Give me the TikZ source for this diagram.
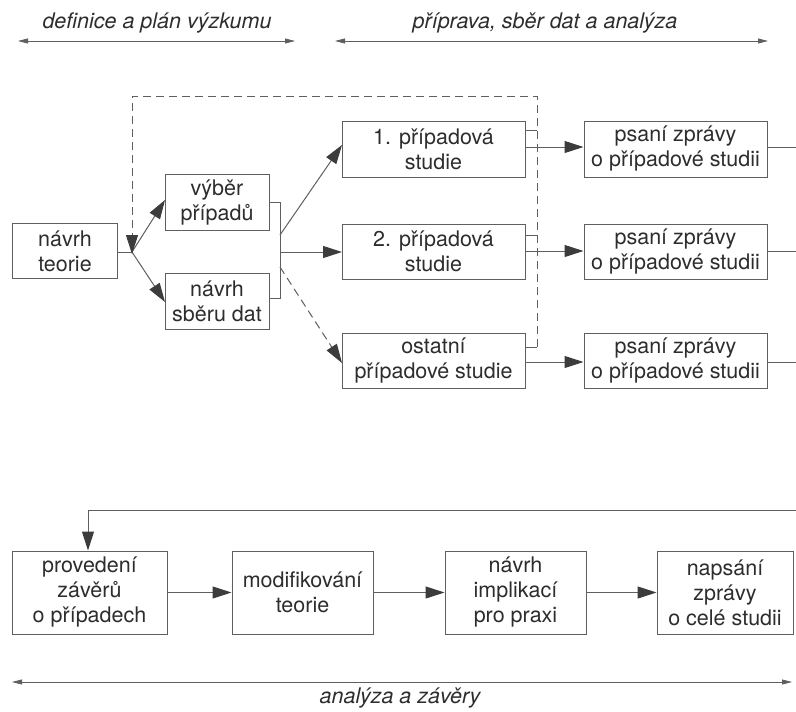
\documentclass[tikz,border=0pt]{standalone}
\usepackage{fontspec}
\setmainfont{TeX Gyre Heros}
\usetikzlibrary{arrows.meta}
\definecolor{linecol}{RGB}{95,95,95}
\definecolor{textcol}{RGB}{45,45,45}
\definecolor{tipcol}{RGB}{60,60,60}
\begin{document}
\begin{tikzpicture}[x=1pt,y=-1pt,
  box/.style={draw=linecol,line width=1pt,inner sep=0pt,align=center,text=textcol,
    font=\fontsize{21.5}{25}\selectfont},
  conn/.style={draw=linecol,line width=1pt},
  bigtip/.style={-{Triangle[length=19pt,width=12pt,fill=tipcol,color=tipcol]}},
  arr/.style={conn,bigtip},
  dashline/.style={conn,dash pattern=on 8pt off 5pt},
  span/.style={draw=linecol,line width=0.8pt,{Triangle[length=10pt,width=5pt]}-{Triangle[length=10pt,width=5pt]}},
  phase/.style={text=textcol,font=\fontsize{21.5}{25}\selectfont\itshape,anchor=base,inner sep=0pt}]
\useasboundingbox[fill=white] (0,0) rectangle (796,712);

% phase labels
\node[phase] (p1) at (157,28) {definice a plán výzkumu};
\node[phase] (p2) at (545,28) {příprava, sběr dat a analýza};
\node[phase] (p3) at (400,703) {analýza a závěry};
\coordinate (a1l) at (18,41);  \coordinate (a1r) at (295,41);
\coordinate (a2l) at (335,41); \coordinate (a2r) at (768,41);
\coordinate (a3l) at (12,682); \coordinate (a3r) at (792,682);
\draw[span] (a1l) -- (a1r);
\draw[span] (a2l) -- (a2r);
\draw[span] (a3l) -- (a3r);

% boxes
\node[box,minimum width=105pt,minimum height=55pt] (teorie) at (65,251) {návrh\\teorie};
\node[box,minimum width=104pt,minimum height=56pt] (vyber) at (217,202) {výběr\\případů};
\node[box,minimum width=104pt,minimum height=56pt] (sber) at (217,301) {návrh\\sběru dat};
\node[box,minimum width=183pt,minimum height=56pt] (s1) at (433.5,149) {1. případová\\studie};
\node[box,minimum width=183pt,minimum height=55pt] (s2) at (433.5,251.5) {2. případová\\studie};
\node[box,minimum width=183pt,minimum height=55pt] (s3) at (433.5,360.5) {ostatní\\případové studie};
\node[box,minimum width=183pt,minimum height=56pt] (z1) at (675.5,149) {psaní zprávy\\o případové studii};
\node[box,minimum width=183pt,minimum height=55pt] (z2) at (675.5,251.5) {psaní zprávy\\o případové studii};
\node[box,minimum width=183pt,minimum height=55pt] (z3) at (675.5,360.5) {psaní zprávy\\o případové studii};
\node[box,minimum width=155pt,minimum height=83pt] (prov) at (89.5,592.5) {provedení\\závěrů\\o případech};
\node[box,minimum width=141pt,minimum height=83pt] (modif) at (302.5,592.5) {modifikování\\teorie};
\node[box,minimum width=141pt,minimum height=83pt] (impl) at (515.5,592.5) {návrh\\implikací\\pro praxi};
\node[box,minimum width=136pt,minimum height=83pt] (naps) at (725,592.5) {napsání\\zprávy\\o celé studii};

% junction after theory
\coordinate (J1) at (132,252);
\draw[conn] (teorie.east |- J1) -- (J1);
\coordinate (tv) at (165,200);
\coordinate (ts) at (165,302);
\draw[arr] (J1) -- (tv);
\draw[arr] (J1) -- (ts);

% feedback dashed loop
\coordinate (d1) at (537,96);
\coordinate (d0) at (132,96);
\coordinate (d3) at (537,347);
\coordinate (st1) at (537,130);
\coordinate (st2) at (537,235);
\draw[dashline,bigtip] (d3) -- (d1) -- (d0) -- ([yshift=-2pt]J1);
\draw[conn] (s1.east |- st1) -- (st1);
\draw[conn] (s2.east |- st2) -- (st2);
\draw[conn] (s3.east |- d3) -- (d3);

% bracket after selection/design
\coordinate (b1) at (280,202);
\coordinate (b2) at (280,298);
\draw[conn] (vyber.east |- b1) -- (b1) -- (b2) -- (sber.east |- b2);
\coordinate (o1) at (280,235);
\coordinate (o2) at (280,252);
\coordinate (o3) at (280,267);
\coordinate (i1) at (342,145);
\coordinate (i2) at (342,252);
\coordinate (i3) at (342,363);
\draw[arr] (o1) -- (i1);
\draw[arr] (o2) -- (i2);
\draw[arr,dash pattern=on 8pt off 5pt] (o3) -- (i3);

% studies to reports
\coordinate (r1) at (796,147);
\coordinate (r2) at (796,251);
\coordinate (r3) at (796,362);
\draw[arr] (s1.east |- r1) -- (z1.west |- r1);
\draw[arr] (s2.east |- r2) -- (z2.west |- r2);
\draw[arr] (s3.east |- r3) -- (z3.west |- r3);
\draw[conn] (z1.east |- r1) -- (r1);
\draw[conn] (z2.east |- r2) -- (r2);
\draw[conn] (z3.east |- r3) -- (r3);

% return line
\coordinate (ret0) at (796,510);
\coordinate (ret1) at (88,510);
\draw[arr] (ret0) -- (ret1) -- (prov.north -| ret1);

% bottom row
\draw[arr] (prov) -- (modif);
\draw[arr] (modif) -- (impl);
\draw[arr] (impl) -- (naps);
\end{tikzpicture}
\end{document}
